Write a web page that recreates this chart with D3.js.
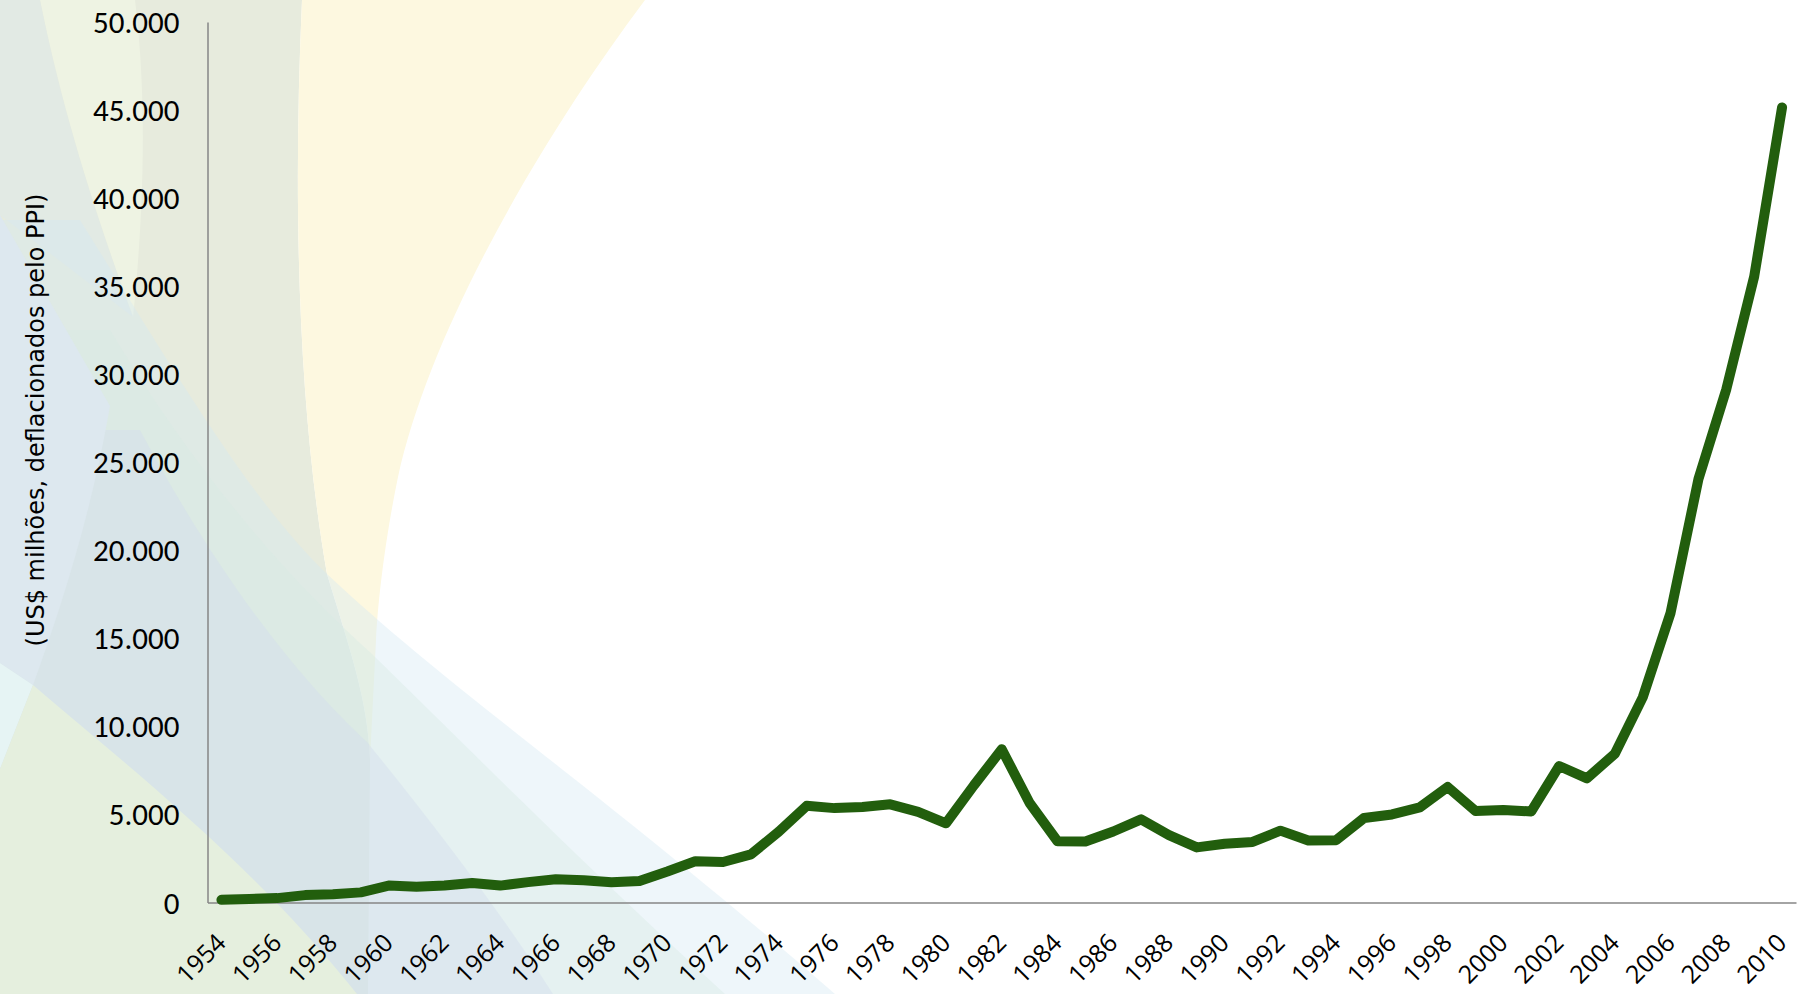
<!DOCTYPE html>
<html>
<head>
<meta charset="utf-8">
<script src="https://cdn.jsdelivr.net/npm/d3@7"></script>
<style>
  html, body { margin: 0; padding: 0; background: #fff; }
  svg { display: block; }
  .ylabel { font-family: "DejaVu Sans", Verdana, sans-serif; font-size: 24px; fill: #000; }
</style>
</head>
<body>
<div id="chart"></div>
<script>
// DATA
const years = [1954, 1955, 1956, 1957, 1958, 1959, 1960, 1961, 1962, 1963,
               1964, 1965, 1966, 1967, 1968, 1969, 1970, 1971, 1972, 1973,
               1974, 1975, 1976, 1977, 1978, 1979, 1980, 1981, 1982, 1983,
               1984, 1985, 1986, 1987, 1988, 1989, 1990, 1991, 1992, 1993,
               1994, 1995, 1996, 1997, 1998, 1999, 2000, 2001, 2002, 2003,
               2004, 2005, 2006, 2007, 2008, 2009, 2010];
const values = [150, 200, 250, 420, 470, 575, 960, 900, 960, 1110,
                960, 1155, 1325, 1260, 1155, 1220, 1760, 2340, 2300, 2730,
                4020, 5490, 5360, 5420, 5575, 5150, 4500, 6650, 8700, 5650,
                3480, 3460, 4030, 4720, 3830, 3130, 3340, 3440, 4080, 3520,
                3540, 4800, 5000, 5400, 6560, 5200, 5250, 5170, 7750, 7050,
                8450, 11650, 16450, 24050, 29150, 35550, 45150];
const yTicks = [0, 5000, 10000, 15000, 20000, 25000, 30000, 35000, 40000, 45000, 50000];
const xTickYears = [1954, 1956, 1958, 1960, 1962, 1964, 1966, 1968, 1970, 1972,
                    1974, 1976, 1978, 1980, 1982, 1984, 1986, 1988, 1990, 1992,
                    1994, 1996, 1998, 2000, 2002, 2004, 2006, 2008, 2010];
const yTitle = '(US$ milhões, deflacionados pelo PPI)';

// decorative slide background (pale swooshes on the left)
const bgShapes = [
    // grey-green block left of the yellow swoosh
    { d: 'M0,0 H302 C292,220 300,420 327,574 C350,650 368,700 370,760 L368,994 H0 Z', fill: '#e7ebdd', op: 1 },
    // yellow swoosh
    { d: 'M302,0 H645 C540,140 430,330 398,477 C385,540 378,600 376,640 L370,760 C368,700 350,650 327,574 C300,420 292,220 302,0 Z', fill: '#fdf8e0', op: 1 },
    // lighter streak top left
    { d: 'M40,0 H135 C150,120 140,250 133,317 C90,200 60,100 40,0 Z', fill: '#eef3e3', op: 1 },
    { d: 'M0,0 H40 C60,100 90,200 133,317 L0,215 Z', fill: '#e2eae4', op: 1 },
    // diagonal bands running down to the bottom
    { d: 'M80,220 C180,380 250,500 327,574 C450,690 600,790 835,994 H0 V220 Z', fill: '#d5e8f2', op: 0.4 },
    { d: 'M110,330 C200,480 290,580 372,654 C480,760 600,880 725,994 H0 V330 Z', fill: '#d8ece4', op: 0.4 },
    { d: 'M140,430 C220,580 300,680 367,742 C430,820 500,910 553,994 H0 V430 Z', fill: '#d2dcee', op: 0.4 },
    // far left pale blue / cyan / green pieces
    { d: 'M0,215 L110,406 C90,520 60,610 33,685 L0,663 Z', fill: '#dde8ef', op: 1 },
    { d: 'M0,663 L33,685 L0,769 Z', fill: '#e6f4f4', op: 1 },
    { d: 'M33,685 C120,760 250,860 357,994 H0 V769 Z', fill: '#e5efde', op: 1 }
];

const W = 1798, H = 994;
const margin = { top: 22, right: 2, bottom: 91.5, left: 207.5 };

const svg = d3.select('#chart').append('svg').attr('width', W).attr('height', H);

svg.append('rect').attr('width', W).attr('height', H).attr('fill', '#fff');
svg.append('g').selectAll('path').data(bgShapes).enter().append('path')
    .attr('d', s => s.d)
    .attr('fill', s => s.fill)
    .attr('fill-opacity', s => s.op);

// SCALES
const x = d3.scaleBand().domain(years).range([margin.left, W - margin.right]).paddingInner(0).paddingOuter(0);
const y = d3.scaleLinear().domain([0, 50000]).range([H - margin.bottom, margin.top]);
const cx = d => x(d) + x.bandwidth() / 2;

const ptBR = d3.formatLocale({ decimal: ',', thousands: '.', grouping: [3], currency: ['', ''] });
const fmt = ptBR.format(',.0f');

// Y AXIS
const yAxis = svg.append('g')
    .attr('transform', `translate(${margin.left},0)`)
    .call(d3.axisLeft(y).tickValues(yTicks).tickFormat(fmt).tickSize(0).tickSizeOuter(0).tickPadding(28));
yAxis.select('.domain').attr('stroke', '#868686').attr('stroke-width', 1.5);
yAxis.selectAll('text')
    .attr('dy', '0.34em')
    .attr('fill', '#000')
    .style('font-family', 'Carlito, Calibri, "Liberation Sans Narrow", sans-serif')
    .style('font-size', '31px');

// X AXIS
const xAxis = svg.append('g')
    .attr('transform', `translate(0,${H - margin.bottom})`)
    .call(d3.axisBottom(x).tickValues(xTickYears).tickSize(0).tickSizeOuter(0));
xAxis.select('.domain').attr('stroke', '#868686').attr('stroke-width', 1.5);
xAxis.selectAll('text')
    .attr('x', 0).attr('y', 0).attr('dy', 0)
    .attr('fill', '#000')
    .attr('text-anchor', 'end')
    .attr('transform', 'translate(6,42) rotate(-45)')
    .style('font-family', '"Open Sans", "Noto Sans", sans-serif')
    .style('font-size', '25px');

// Y TITLE
svg.append('text')
    .attr('class', 'ylabel')
    .attr('text-anchor', 'middle')
    .attr('transform', 'translate(44,420) rotate(-90)')
    .text(yTitle);

// LINE
const line = d3.line()
    .x((d, i) => cx(years[i]))
    .y(d => y(d));

svg.append('path')
    .datum(values)
    .attr('fill', 'none')
    .attr('stroke', '#225e0d')
    .attr('stroke-width', 10)
    .attr('stroke-linejoin', 'round')
    .attr('stroke-linecap', 'round')
    .attr('d', line);
</script>
</body>
</html>
